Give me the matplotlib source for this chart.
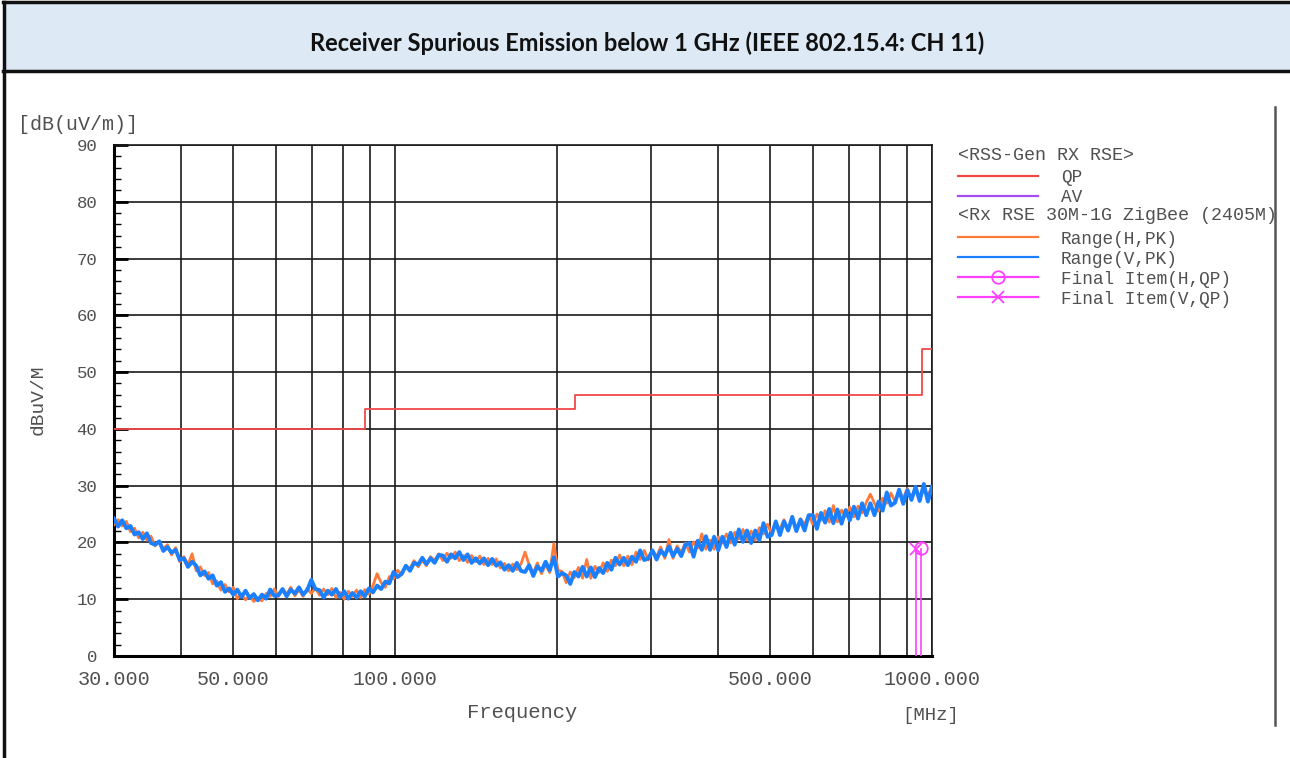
import numpy as np
import matplotlib
matplotlib.use("Agg")
import matplotlib.pyplot as plt
from matplotlib.lines import Line2D
from matplotlib.patches import Rectangle

W, H = 1290, 758

# QP limit (RSS-Gen RX RSE)
qp_freq = [30, 88, 88, 216, 216, 960, 960, 1000]
qp_level = [40, 40, 43.5, 43.5, 46, 46, 54, 54]

# sweep points of the peak traces (MHz)
sweep_freq = np.geomspace(30, 1000, 200)

# Range(V,PK) values
v_pk = [
    24.2, 22.8, 23.9, 22.5, 22.9, 21.4, 21.8, 20.6, 21.6, 19.9,
    19.6, 20.2, 18.5, 19.2, 18.2, 18.7, 16.9, 17.2, 15.7, 16.6,
    15.9, 14.2, 14.9, 13.6, 14.2, 12.4, 13.0, 11.3, 11.9, 10.8,
    11.7, 10.4, 11.5, 10.2, 10.9, 9.8, 10.8, 10.1, 11.7, 10.6,
    10.7, 11.8, 10.5, 11.7, 11.0, 12.1, 10.8, 11.6, 13.4, 11.8,
    11.6, 10.3, 11.5, 10.8, 11.8, 10.4, 11.4, 10.1, 11.1, 10.3,
    11.4, 10.5, 11.9, 11.2, 12.4, 11.8, 13.1, 12.8, 14.8, 13.9,
    14.5, 15.9, 15.0, 16.4, 16.1, 17.3, 16.2, 17.2, 16.4, 17.8,
    17.7, 16.6, 17.9, 17.2, 18.3, 16.9, 17.9, 16.4, 17.2, 16.3,
    17.2, 16.0, 17.1, 15.9, 16.5, 15.2, 16.0, 15.0, 16.4, 15.0,
    14.8, 16.0, 14.1, 15.8, 15.0, 16.6, 15.1, 17.4, 14.0, 14.6,
    14.2, 12.7, 14.8, 14.0, 15.7, 14.0, 15.6, 13.9, 15.5, 14.6,
    16.4, 15.2, 17.3, 16.1, 17.3, 16.0, 17.5, 16.6, 18.6, 16.9,
    17.2, 18.6, 17.0, 18.6, 17.7, 19.3, 17.6, 18.9, 17.6, 19.6,
    19.9, 17.5, 20.3, 18.7, 21.1, 18.7, 21.0, 18.6, 21.0, 19.2,
    21.7, 19.6, 22.3, 20.1, 22.1, 19.9, 22.1, 20.4, 23.4, 21.0,
    21.3, 23.7, 21.3, 23.7, 22.1, 24.5, 22.0, 24.0, 22.1, 24.8,
    24.8, 22.4, 25.2, 23.5, 25.9, 23.4, 25.8, 23.3, 25.7, 23.9,
    26.3, 24.2, 26.9, 24.8, 26.9, 24.8, 27.2, 25.6, 28.8, 26.5,
    27.0, 29.3, 26.8, 29.2, 27.5, 29.8, 27.3, 30.3, 27.2, 29.8,
]

# Range(H,PK) values
h_pk = [
    23.1, 24.0, 22.9, 23.7, 21.9, 22.5, 20.8, 21.8, 20.4, 21.1,
    19.4, 20.2, 18.9, 19.6, 17.8, 19.1, 16.6, 17.5, 16.1, 18.0,
    15.0, 15.7, 14.2, 14.7, 12.7, 13.2, 11.6, 12.6, 11.3, 12.1,
    10.1, 10.9, 9.9, 10.6, 9.6, 10.2, 9.7, 11.0, 10.5, 11.8,
    10.5, 11.8, 10.9, 12.1, 10.6, 11.7, 10.5, 11.9, 11.0, 12.0,
    10.7, 11.8, 10.8, 11.9, 10.3, 11.2, 10.0, 11.4, 10.5, 11.6,
    10.3, 11.7, 10.9, 12.4, 14.5, 12.9, 12.1, 14.0, 13.6, 15.1,
    14.3, 15.9, 15.4, 16.8, 15.7, 16.9, 15.9, 17.5, 16.8, 18.0,
    16.8, 18.1, 17.2, 18.3, 16.8, 17.7, 16.5, 17.7, 16.6, 17.6,
    16.1, 17.2, 16.1, 17.1, 15.5, 16.3, 15.0, 16.2, 15.2, 16.2,
    18.3, 16.0, 14.6, 16.4, 14.5, 16.1, 14.7, 19.8, 15.1, 14.9,
    12.9, 14.8, 13.8, 15.6, 13.7, 17.0, 13.7, 15.8, 14.7, 16.4,
    14.9, 16.9, 15.9, 17.8, 15.9, 17.6, 16.1, 18.3, 17.0, 18.6,
    16.9, 18.6, 17.5, 19.2, 17.2, 20.5, 17.2, 19.4, 18.2, 19.9,
    18.3, 20.1, 19.0, 21.5, 18.8, 20.4, 18.8, 21.0, 19.9, 21.5,
    19.9, 21.8, 20.6, 22.3, 20.4, 22.0, 20.4, 22.6, 21.5, 23.2,
    21.5, 23.4, 22.3, 24.0, 22.1, 24.6, 22.1, 24.2, 23.2, 24.8,
    23.2, 25.0, 23.9, 25.6, 23.6, 26.5, 23.6, 25.7, 24.6, 26.2,
    24.5, 26.4, 25.2, 27.0, 28.5, 26.9, 25.5, 27.8, 26.9, 28.7,
    27.2, 29.0, 27.8, 29.5, 27.5, 29.8, 27.4, 29.5, 28.3, 29.8,
]

# Final items (QP)
final_h_freq, final_h_level = [952.0], [19.0]
final_v_freq, final_v_level = [935.0], [18.8]

y_ticks = list(range(0, 91, 10))
x_label_ticks = [30, 50, 100, 500, 1000]
x_grid_ticks = [40, 60, 70, 80, 90, 200, 300, 400, 600, 700, 800, 900]

c_qp = "#f24848"
c_av = "#a64cf0"
c_h = "#ff7a38"
c_v = "#1a80ff"
c_fin = "#ff40ff"
c_txt = "#505050"
mono = "Liberation Mono"

fig = plt.figure(figsize=(W / 100, H / 100), dpi=100)


def fx(x):
    return x / W


def fy(y):
    return 1 - y / H


# header / frame
fig.add_artist(Rectangle((fx(3), fy(71)), fx(1287), 69 / H, facecolor="#dde9f5",
                         edgecolor="none", transform=fig.transFigure))
for xs, ys, lw, col in [([3, 1290], [2, 2], 2.5, "#111111"), ([3, 1290], [71, 71], 2.5, "#111111"),
                        ([3.5, 3.5], [2, 758], 2.5, "#111111"),
                        ([1275, 1275], [107, 725], 1.8, "#555555")]:
    fig.add_artist(Line2D([fx(v) for v in xs], [fy(v) for v in ys], color=col,
                          lw=lw, transform=fig.transFigure))
fig.text(fx(647), fy(43), "Receiver Spurious Emission below 1 GHz (IEEE 802.15.4: CH 11)",
         ha="center", va="center", fontsize=17, fontweight="bold", family="Lato", color="#111111")

ax = fig.add_axes([fx(114), fy(656), fx(932) - fx(114), fy(145) - fy(656)])
ax.set_xscale("log")
ax.set_xlim(30, 1000)
ax.set_ylim(0, 90)

ax.plot(qp_freq, qp_level, color=c_qp, lw=1.3, zorder=4)
ax.plot(sweep_freq, h_pk, color=c_h, lw=2.0, zorder=3)
ax.plot(sweep_freq, v_pk, color=c_v, lw=2.8, zorder=3.5)
ax.vlines(final_h_freq, 0, final_h_level, color=c_fin, lw=1.2, zorder=5)
ax.vlines(final_v_freq, 0, final_v_level, color=c_fin, lw=1.2, zorder=5)
ax.plot(final_h_freq, final_h_level, "o", mfc="none", mec=c_fin, ms=9, mew=1.3, zorder=6)
ax.plot(final_v_freq, final_v_level, "x", color=c_fin, ms=9, mew=1.3, zorder=6)

ax.set_xticks(x_label_ticks)
ax.set_xticklabels(["%.3f" % v for v in x_label_ticks])
ax.set_xticks(x_grid_ticks, minor=True)
ax.xaxis.set_minor_formatter(matplotlib.ticker.NullFormatter())
ax.set_yticks(y_ticks)
ax.set_yticks(range(0, 91, 2), minor=True)
ax.xaxis.grid(True, which="both", color="#1a1a1a", lw=1.2)
ax.yaxis.grid(True, which="major", color="#1a1a1a", lw=1.2)
ax.set_axisbelow(True)
ax.tick_params(axis="x", which="both", length=0, pad=10, labelsize=14.5, labelcolor=c_txt)
ax.tick_params(axis="y", which="major", direction="in", length=10, width=2, pad=12,
               labelsize=12.5, labelcolor=c_txt)
ax.tick_params(axis="y", which="minor", direction="in", length=5, width=1)
for lab in ax.get_xticklabels() + ax.get_yticklabels():
    lab.set_family(mono)
for s in ["top", "right"]:
    ax.spines[s].set_color("#1a1a1a")
    ax.spines[s].set_linewidth(1.2)
ax.spines["left"].set_linewidth(2.2)
ax.spines["bottom"].set_linewidth(2.2)

# axis texts
fig.text(fx(18), fy(125), "[dB(uV/m)]", ha="left", va="center", fontsize=14.4, family=mono, color=c_txt)
fig.text(fx(38), fy(400), "dBuV/M", ha="center", va="center", rotation=90, fontsize=14, family=mono, color=c_txt)
fig.text(fx(522), fy(712), "Frequency", ha="center", va="center", fontsize=14.8, family=mono, color=c_txt)
fig.text(fx(931), fy(716), "[MHz]", ha="center", va="center", fontsize=13.7, family=mono, color=c_txt)

# legend
leg_rows = [
    (155, None, "<RSS-Gen RX RSE>", None),
    (176, c_qp, "QP", None),
    (196, c_av, "AV", None),
    (216, None, "<Rx RSE 30M-1G ZigBee (2405M)", None),
    (237, c_h, "Range(H,PK)", None),
    (257, c_v, "Range(V,PK)", None),
    (277, c_fin, "Final Item(H,QP)", "o"),
    (297, c_fin, "Final Item(V,QP)", "x"),
]
for y, col, label, mk in leg_rows:
    if col is None:
        fig.text(fx(958), fy(y), label, ha="left", va="center", fontsize=13.2, family=mono, color=c_txt)
        continue
    fig.add_artist(Line2D([fx(958), fx(1038)], [fy(y), fy(y)], color=col, lw=1.6, transform=fig.transFigure))
    if mk == "o":
        fig.add_artist(Line2D([fx(998)], [fy(y)], marker="o", mfc="none", mec=col, ms=9, mew=1.3,
                              transform=fig.transFigure))
    elif mk == "x":
        fig.add_artist(Line2D([fx(998)], [fy(y)], marker="x", color=col, ms=9, mew=1.3,
                              transform=fig.transFigure))
    fig.text(fx(1061), fy(y + 2), label, ha="left", va="center", fontsize=12.8, family=mono, color=c_txt)

fig.savefig("out.png", dpi=100)
